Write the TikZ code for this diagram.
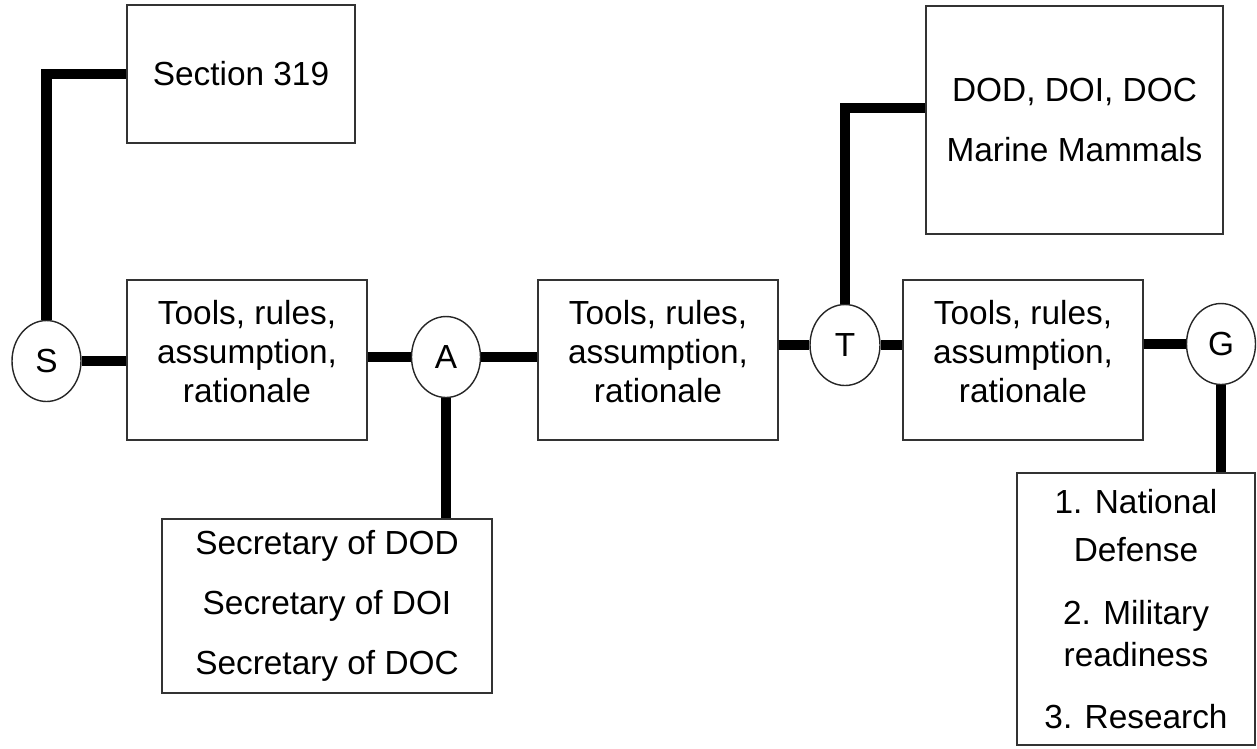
\documentclass[tikz,border=0pt]{standalone}
\usepackage{fontspec}
\setmainfont{Liberation Sans}
\usepackage{tikz}
\usetikzlibrary{shapes.geometric}

\begin{document}
\begin{tikzpicture}[x=0.02cm,y=-0.02cm,
    box/.style={draw=black!80,line width=0.8pt,fill=white,align=center,inner sep=0pt},
    tools/.style={box,minimum width=4.8cm,minimum height=3.2cm,text depth=0.34cm},
    stage/.style={ellipse,draw=black!85,line width=0.8pt,fill=white,minimum width=1.38cm,minimum height=1.62cm,inner sep=0pt},
    link/.style={line width=6pt,line join=miter}]
    \useasboundingbox (0,0) rectangle (1257,748);
    \fontsize{19}{22}\selectfont

    \node[box,minimum width=4.56cm,minimum height=2.76cm] (sec) at (241,74) {Section 319};
    \node[tools] (tools1) at (247,360) {Tools, rules,\\assumption,\\rationale};
    \node[tools] (tools2) at (658,360) {Tools, rules,\\assumption,\\rationale};
    \node[tools] (tools3) at (1023,360) {Tools, rules,\\assumption,\\rationale};
    \node[box,minimum width=5.94cm,minimum height=4.56cm] (dod) at (1074.5,120) {DOD, DOI, DOC\\[12pt]Marine Mammals};
    \node[box,minimum width=6.6cm,minimum height=3.48cm] (secy) at (327,606) {Secretary of DOD\\[12pt]Secretary of DOI\\[12pt]Secretary of DOC};
    \node[box,minimum width=4.76cm,minimum height=5.44cm] (goals) at (1136,609) {1. National\\[5pt]Defense\\[14pt]2. Military\\[2pt]readiness\\[13pt]3. Research};

    \node[stage] (S) at (46.5,361) {S};
    \node[stage] (A) at (446,357) {A};
    \node[stage,minimum width=1.4cm] (T) at (845,345) {T};
    \node[stage] (G) at (1221,344) {G};

    \coordinate (dodin) at ([yshift=0.24cm]dod.west);

    \draw[link] (S.north) |- (sec.west);
    \draw[link] (S.east) -- (S.east -| tools1.west);
    \draw[link] (tools1.east |- A) -- (A.west);
    \draw[link] (A.east) -- (A.east -| tools2.west);
    \draw[link] (A.south) -- (A.south |- secy.north);
    \draw[link] (tools2.east |- T) -- (T.west);
    \draw[link] (T.east) -- (T.east -| tools3.west);
    \draw[link] (T.north) |- (dodin);
    \draw[link] (tools3.east |- G) -- (G.west);
    \draw[link] (G.south) -- (G.south |- goals.north);
\end{tikzpicture}
\end{document}
